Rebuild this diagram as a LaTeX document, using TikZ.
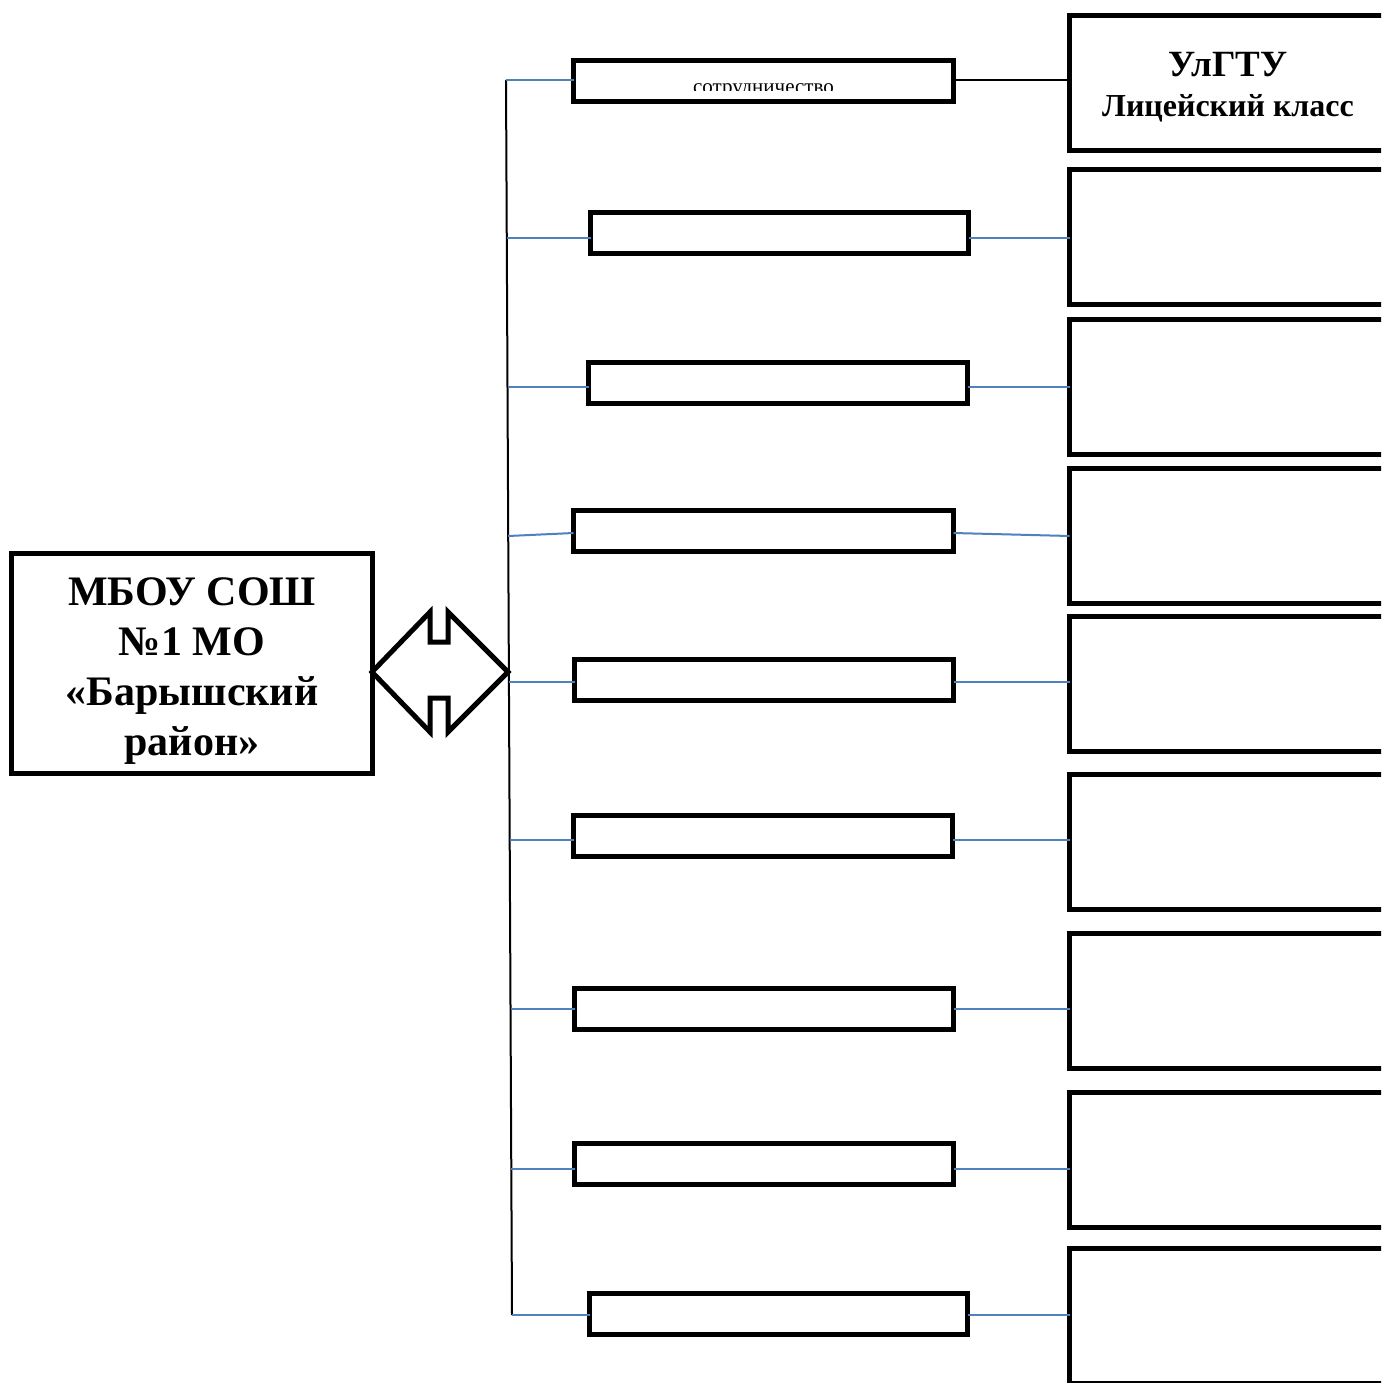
\documentclass[tikz,border=0pt]{standalone}
\usepackage{fontspec}
\setmainfont{Liberation Serif}
\definecolor{lnblue}{RGB}{79,129,189}
\begin{document}
\begin{tikzpicture}[x=1pt,y=-1pt,
  midbox/.style={draw, line width=5pt, minimum height=41pt, inner sep=0pt, outer sep=0pt},
  rbox/.style={draw, line width=5pt, minimum width=317pt, minimum height=135pt, inner sep=0pt, outer sep=0pt, anchor=west},
  bl/.style={draw=lnblue, line width=2pt},
  blk/.style={draw=black, line width=2pt},
  txt/.style={inner sep=0pt, outer sep=0pt, anchor=base},
]
\clip (0,0) rectangle (1381,1383);
\fill[white] (0,0) rectangle (1381,1383);

% left main box
\node[draw, line width=4.5pt, minimum width=361pt, minimum height=220pt, inner sep=0pt, outer sep=0pt] (mbou) at (192,663.5) {};
\node[align=center, inner sep=0pt, font=\bfseries\fontsize{42}{50}\selectfont] (mboutxt) at (192,671.5)
      {МБОУ СОШ\\№1 МО\\«Барышский\\район»};

% double arrow
\coordinate (arrL) at (372,672);
\coordinate (arrR) at (508,672);
\draw[line width=5pt, line join=miter] (arrL) -- (430,612) -- (430,642) -- (448,642) -- (448,612)
   -- (arrR) -- (448,732) -- (448,698) -- (430,698) -- (430,732) -- cycle;

% vertical bus
\coordinate (vt) at (506,80);
\coordinate (vb) at (512,1315);
\draw[blk] (vt) -- (vb);

\coordinate (l1) at (506,80);
\coordinate (l2) at (506.8,238);
\coordinate (l3) at (507.5,387);
\coordinate (l4) at (508.2,536);
\coordinate (l5) at (508.9,682);
\coordinate (l6) at (509.7,840);
\coordinate (l7) at (510.5,1009);
\coordinate (l8) at (511.3,1169);
\coordinate (l9) at (512,1315);

% middle boxes
\node[midbox, minimum width=380pt] (b1) at (763.5,81.5) {};
\node[midbox, minimum width=378pt] (b2) at (779.5,232.5) {};
\node[midbox, minimum width=379pt] (b3) at (778,382.5) {};
\node[midbox, minimum width=380pt] (b4) at (763.5,530.5) {};
\node[midbox, minimum width=379pt] (b5) at (764,679.5) {};
\node[midbox, minimum width=379pt] (b6) at (763,836) {};
\node[midbox, minimum width=379pt] (b7) at (764,1009) {};
\node[midbox, minimum width=379pt] (b8) at (764,1163.5) {};
\node[midbox, minimum width=378pt] (b9) at (778.5,1314) {};

\begin{scope}
\clip (576,64) rectangle (951,91);
\node[txt, font=\fontsize{21}{21}\selectfont] (t1) at (763.5,93.5) {сотрудничество};
\end{scope}

% right boxes
\node[rbox] (r1) at (1069.5,83) {};
\node[txt, font=\bfseries\fontsize{37}{40}\selectfont] (r1a) at (1228,77) {УлГТУ};
\node[txt, font=\bfseries\fontsize{32}{36}\selectfont] (r1b) at (1228,117) {Лицейский класс};
\node[rbox] (r2) at (1069.5,237) {};
\node[rbox] (r3) at (1069.5,387) {};
\node[rbox] (r4) at (1069.5,536) {};
\node[rbox] (r5) at (1069.5,684) {};
\node[rbox] (r6) at (1069.5,842) {};
\node[rbox] (r7) at (1069.5,1001) {};
\node[rbox] (r8) at (1069.5,1160) {};
\node[rbox] (r9) at (1069.5,1316) {};

% connectors left
\draw[bl] (l1) -- (l1 -| b1.west);
\draw[bl] (l2) -- (l2 -| b2.west);
\draw[bl] (l3) -- (l3 -| b3.west);
\draw[bl] (l4) -- ([yshift=-2.5pt]b4.west);
\draw[bl] (l5) -- (l5 -| b5.west);
\draw[bl] (l6) -- (l6 -| b6.west);
\draw[bl] (l7) -- (l7 -| b7.west);
\draw[bl] (l8) -- (l8 -| b8.west);
\draw[bl] (l9) -- (l9 -| b9.west);

% connectors right
\draw[blk, line width=1.5pt] (b1.east |- l1) -- (l1 -| r1.west);
\draw[bl] (b2.east |- l2) -- (l2 -| r2.west);
\draw[bl] (b3.east |- l3) -- (l3 -| r3.west);
\draw[bl] ([yshift=-2.5pt]b4.east) -- (l4 -| r4.west);
\draw[bl] (b5.east |- l5) -- (l5 -| r5.west);
\draw[bl] (b6.east |- l6) -- (l6 -| r6.west);
\draw[bl] (b7.east |- l7) -- (l7 -| r7.west);
\draw[bl] (b8.east |- l8) -- (l8 -| r8.west);
\draw[bl] (b9.east |- l9) -- (l9 -| r9.west);
\end{tikzpicture}
\end{document}
